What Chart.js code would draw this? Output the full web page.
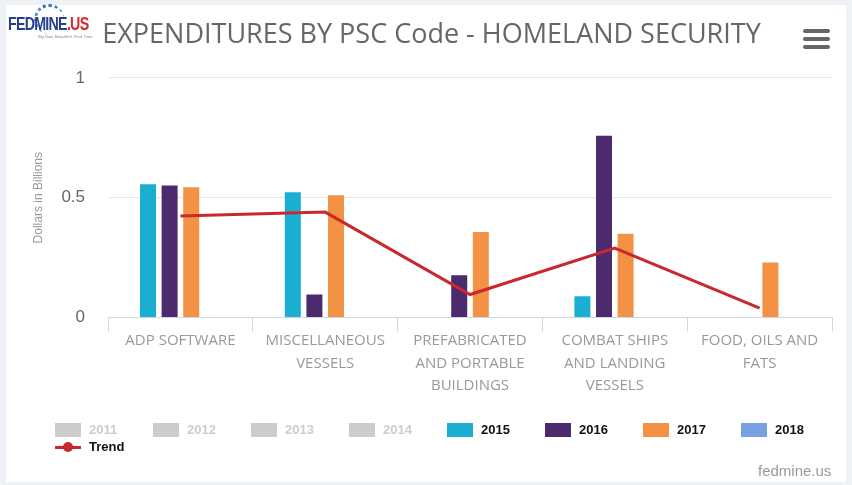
<!DOCTYPE html>
<html>
<head>
<meta charset="utf-8">
<script src="https://cdn.jsdelivr.net/npm/chart.js@4.4.1/dist/chart.umd.min.js"></script>
<style>
  html, body { margin: 0; padding: 0; }
  body { width: 852px; height: 485px; background: #eef1f6; position: relative; overflow: hidden; font-family: "Liberation Sans", Arial, sans-serif; }
  #card { position: absolute; left: 6px; top: 5px; width: 840px; height: 477px; background: #fff; }
  #card canvas { position: absolute; left: 0; top: 0; }
  #logo { position: absolute; left: 8px; top: 2px; width: 90px; height: 40px; }
  #logo .dots { position: absolute; left: 26px; top: 2px; width: 30px; height: 30px; border-radius: 50%;
    border-top: 3px dotted #3b6fb6; border-left: 3px dotted #5b8fd0; box-sizing: border-box; }
  #logo .name { position: absolute; left: 0; top: 11px; font: bold 19px "Liberation Sans", Arial, sans-serif;
    letter-spacing: -1px; color: #27408b; white-space: nowrap; transform: scaleX(0.75); transform-origin: 0 0; }
  #logo .name span { color: #d52b2b; }
  #logo .tag { position: absolute; left: 30px; top: 32px; font: italic 4px "Liberation Sans", Arial, sans-serif; color: #888; white-space: nowrap; }
  #menu { position: absolute; left: 803px; top: 29px; width: 27px; }
  #menu div { height: 4px; background: #666; border-radius: 2px; margin-bottom: 4px; }
  #legend { position: absolute; left: 55px; top: 421px; width: 790px; display: flex; flex-wrap: wrap; }
  .item { width: 98px; height: 17px; display: flex; align-items: center; font: bold 13px "Liberation Sans", Arial, sans-serif; color: #111; }
  .item .box { width: 26px; height: 14px; margin-right: 8px; flex: none; }
  .item.off { color: #ccc; }
  .item .sym { width: 26px; height: 14px; margin-right: 8px; position: relative; flex: none; }
  .item .sym i { position: absolute; left: 0; right: 0; top: 6px; height: 3px; background: #c9282d; }
  .item .sym b { position: absolute; left: 8px; top: 2px; width: 10px; height: 10px; border-radius: 50%; background: #c9282d; }
  #credit { position: absolute; left: 758px; top: 462px; font: 15px "Liberation Sans", Arial, sans-serif; color: #999; }
</style>
</head>
<body>
<div id="card"><canvas id="chart"></canvas></div>
<div id="logo"><div class="dots"></div><div class="name">FEDMINE<span>.US</span></div><div class="tag">Big Data Simplified. Real Time.</div></div>
<div id="menu"><div></div><div></div><div></div></div>
<div id="legend"></div>
<div id="credit">fedmine.us</div>
<script>
const categories = [
  "ADP SOFTWARE",
  ["MISCELLANEOUS", "VESSELS"],
  ["PREFABRICATED", "AND PORTABLE", "BUILDINGS"],
  ["COMBAT SHIPS", "AND LANDING", "VESSELS"],
  ["FOOD, OILS AND", "FATS"],
];

// hidden years (greyed out in the legend)
const hiddenYears = ["2011", "2012", "2013", "2014"];

const values2015 = [0.556, 0.523, null, 0.089, null];
const values2016 = [0.551, 0.096, 0.176, 0.759, null];
const values2017 = [0.544, 0.510, 0.357, 0.350, 0.230];
const values2018 = [null, null, null, null, null];
const trendValues = [0.424, 0.440, 0.096, 0.290, 0.039];

const yTicks = [0, 0.5, 1];

const colors = {
  "2015": "#1aafd0",
  "2016": "#4b2a6e",
  "2017": "#f39144",
  "2018": "#78a0e3",
  trend: "#c9282d",
  hidden: "#cccccc",
};

const barOpts = { categoryPercentage: 0.597, barPercentage: 0.74 };

const datasets = [];
hiddenYears.forEach((y) => {
  datasets.push({ label: y, data: [], hidden: true, backgroundColor: colors.hidden, ...barOpts });
});
[["2015", values2015], ["2016", values2016], ["2017", values2017], ["2018", values2018]].forEach(([y, vals]) => {
  datasets.push({ label: y, data: vals, backgroundColor: colors[y], ...barOpts });
});
datasets.push({
  type: "line",
  label: "Trend",
  data: trendValues,
  borderColor: colors.trend,
  backgroundColor: colors.trend,
  borderWidth: 3,
  pointRadius: 0,
  tension: 0,
  order: -1,
});

const chart = new Chart(document.getElementById("chart"), {
  type: "bar",
  data: { labels: categories, datasets: datasets },
  options: {
    responsive: true,
    maintainAspectRatio: false,
    animation: false,
    layout: { padding: { left: 25, right: 14, top: 0, bottom: 87 } },
    plugins: {
      legend: { display: false },
      tooltip: { enabled: false },
      title: {
        display: true,
        text: "EXPENDITURES BY PSC Code - HOMELAND SECURITY",
        color: "#666",
        font: { family: "Open Sans", size: 27, weight: "normal", lineHeight: 1.2 },
        padding: { top: 14.5, bottom: 26 },
      },
    },
    scales: {
      x: {
        offset: true,
        grid: {
          offset: true,
          drawOnChartArea: false,
          drawTicks: true,
          tickLength: 14,
          color: "#ccd6eb",
        },
        border: { color: "#ccd6eb", width: 1 },
        ticks: {
          color: "#999",
          font: { family: "Open Sans", size: 15, lineHeight: 1.5 },
          padding: -2,
          maxRotation: 0,
          autoSkip: false,
        },
      },
      y: {
        min: 0,
        max: 1,
        afterBuildTicks: (axis) => {
          axis.ticks = yTicks.map((v) => ({ value: v }));
        },
        ticks: {
          color: "#666",
          font: { family: "Liberation Sans", size: 17 },
          padding: 23,
          callback: (v) => String(v),
        },
        grid: {
          drawTicks: false,
          color: (ctx) => (ctx.tick && ctx.tick.value === 0 ? "rgba(0,0,0,0)" : "#e6e6e6"),
        },
        border: { display: false },
        title: {
          display: true,
          text: "Dollars in Billions",
          color: "#999",
          font: { family: "Liberation Sans", size: 12 },
          padding: { top: 0, bottom: -7 },
        },
      },
    },
  },
});

// html legend built from the chart datasets
const legendEl = document.getElementById("legend");
chart.data.datasets.forEach((ds) => {
  const item = document.createElement("div");
  item.className = "item" + (ds.hidden ? " off" : "");
  if (ds.type === "line") {
    item.innerHTML = '<span class="sym"><i></i><b></b></span>' + ds.label;
  } else {
    item.innerHTML = '<span class="box" style="background:' + ds.backgroundColor + '"></span>' + ds.label;
  }
  legendEl.appendChild(item);
});
</script>
</body>
</html>
